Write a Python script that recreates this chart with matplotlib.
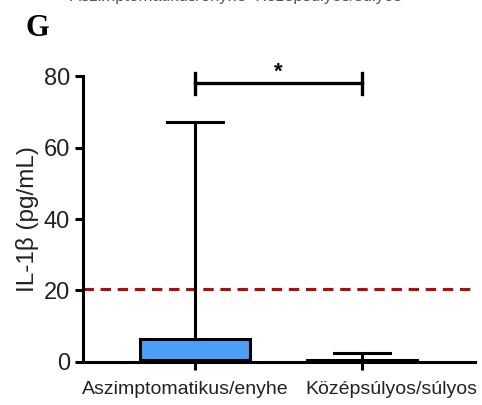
import matplotlib.pyplot as plt
import matplotlib.transforms as mtransforms
import numpy as np

plt.rcParams['font.family'] = ['Liberation Sans', 'DejaVu Sans']

# IL-1 beta levels by disease severity (box/whisker summary, min to max)
groups = ['Aszimptomatikus/enyhe', 'Középsúlyos/súlyos']
whislo = [0.0, 0.0]
q1 = [0.3, 0.2]
med = [0.5, 0.3]
q3 = [6.35, 0.6]
whishi = [67.0, 2.4]
cutoff = 20.4
sig_y = 78.0

stats = []
for i in range(len(groups)):
    stats.append(dict(label=groups[i], whislo=whislo[i], q1=q1[i], med=med[i],
                      q3=q3[i], whishi=whishi[i], fliers=[]))

fig = plt.figure(figsize=(4.82, 4.05), dpi=100)
ax = fig.add_axes([0.1722, 0.1062, 0.8133, 0.7061])

pos = [1, 2]
ax.bxp(stats, positions=pos, widths=0.66, capwidths=0.33, patch_artist=True,
       showfliers=False,
       boxprops=dict(facecolor='#4d9ff5', edgecolor='black', linewidth=2.2),
       whiskerprops=dict(color='black', linewidth=2.2),
       capprops=dict(color='black', linewidth=2.2),
       medianprops=dict(color='black', linewidth=2.2))
ax.patches[1].set_facecolor('white')

ax.axhline(cutoff, color='#b30a0a', linewidth=2.2, dashes=(3.4, 2.2), zorder=0)

# significance bracket
ax.plot([1, 2], [sig_y, sig_y], color='black', linewidth=2.4, clip_on=False)
for p in pos:
    ax.plot([p, p], [sig_y - 2.9, sig_y + 2.9], color='black', linewidth=2.4, clip_on=False)
ax.text(1.5, sig_y + 0.1, '*', ha='center', va='bottom', fontsize=16, fontweight='bold')

ax.set_xlim(0.329, 2.677)
ax.set_ylim(0, 80)
ax.set_yticks([0, 20, 40, 60, 80])
ax.set_xticks(pos)
ax.set_xticklabels(groups)
ax.set_ylabel('IL-1β (pg/mL)', fontsize=17.5, labelpad=3, color='#222222')

for s in ['top', 'right']:
    ax.spines[s].set_visible(False)
for s in ['left', 'bottom']:
    ax.spines[s].set_linewidth(2.2)
ax.tick_params(axis='both', width=2.2, length=6, color='black')
ax.tick_params(axis='y', labelsize=17, labelcolor='#222222', pad=3.5)
ax.tick_params(axis='x', labelsize=14, labelcolor='#222222', pad=8)

# nudge the long category labels apart so they don't collide
shifts = [-0.10, 0.29]
for lab, dx in zip(ax.get_xticklabels(), shifts):
    lab.set_transform(lab.get_transform() +
                      mtransforms.ScaledTranslation(dx, 0, fig.dpi_scale_trans))

fig.text(0.052, 0.91, 'G', fontsize=22, fontweight='bold', family='Liberation Serif')
fig.text(0.49, 1 - 1 / 405, 'Aszimptomatikus/enyhe  Középsúlyos/súlyos',
         ha='center', va='baseline', fontsize=12, color='#555555')

fig.savefig('out.png', dpi=100)
